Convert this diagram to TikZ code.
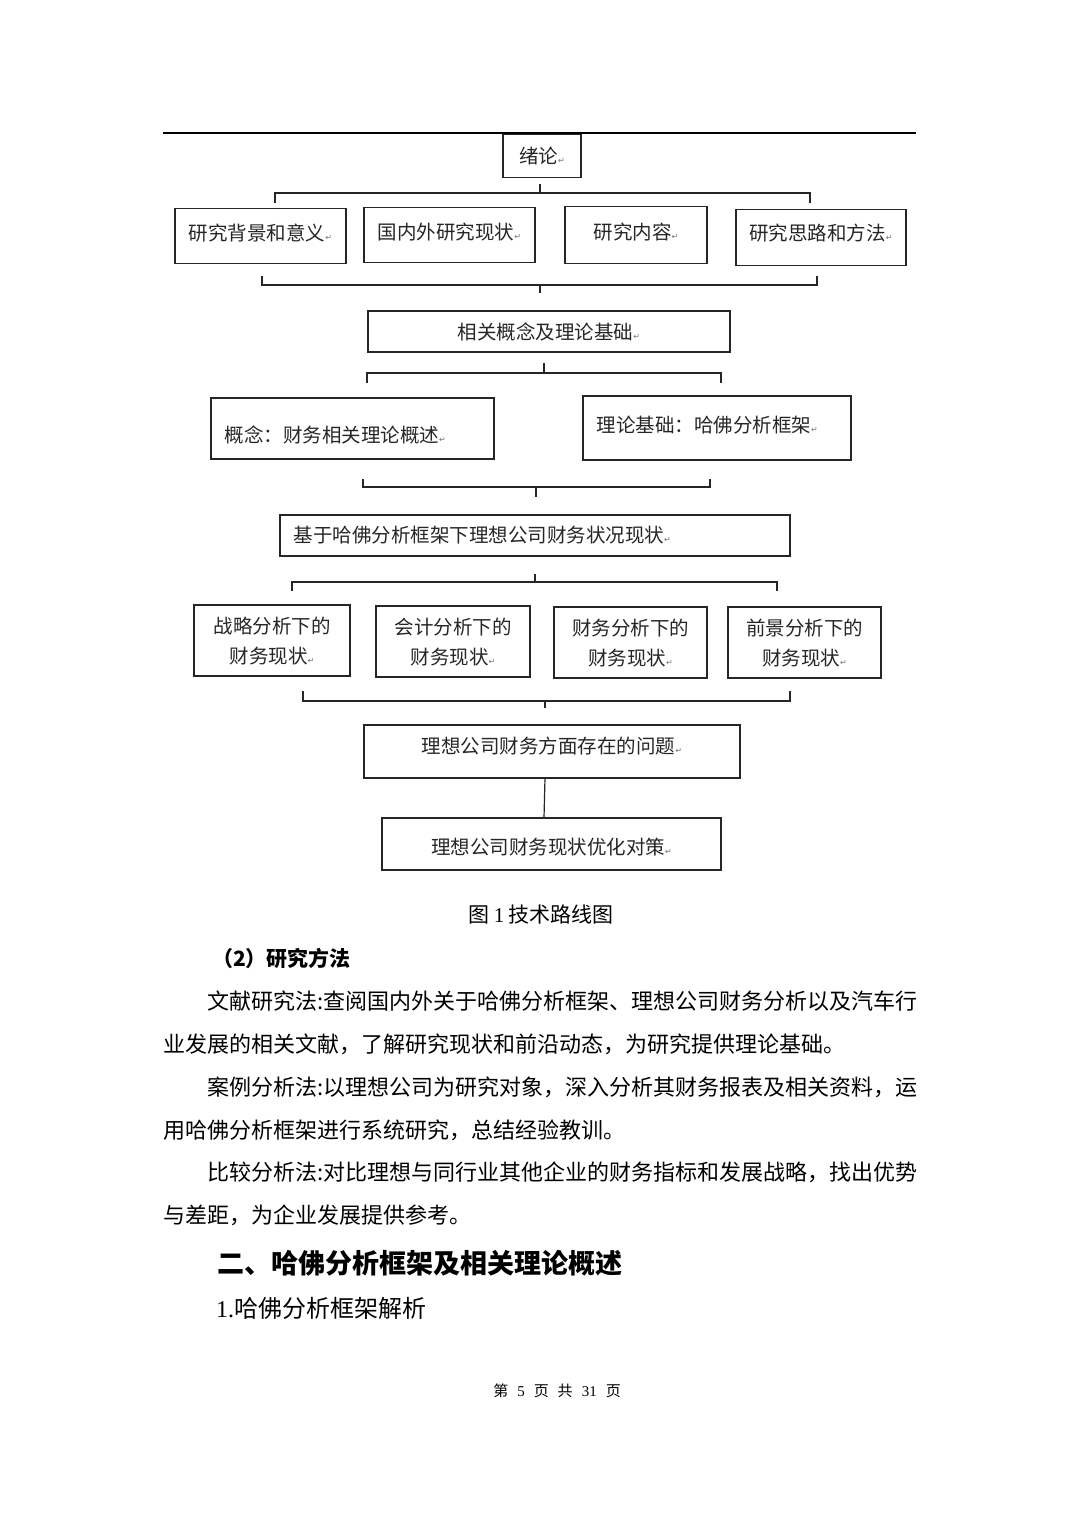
\documentclass[tikz,border=0pt]{standalone}
\usepackage{fontspec}
\setmainfont{Noto Sans CJK SC}
\newfontfamily\dejavu{DejaVu Sans}
\newfontfamily\serifnum{Liberation Serif}
\newcommand\retmark{{\dejavu\fontsize{8}{8}\selectfont\color{black!55}↵}}
\begin{document}
\begin{tikzpicture}[x=1pt,y=-1pt,
  box/.style={draw=black!85, line width=1.3pt, rectangle, inner sep=0pt},
  txt/.style={inner sep=0pt, font=\fontsize{19.5}{30}\selectfont, text=black!85, align=center},
  ltxt/.style={txt, anchor=west, xshift=14pt},
  link/.style={draw=black!85, line width=1.2pt},
  body/.style={anchor=west, inner sep=0pt, font=\fontsize{22}{22}\selectfont, text=black}]
\fill[white] (0,0) rectangle (1080,1527);
\useasboundingbox (0,0) rectangle (1080,1527);
% top rule
\draw[line width=1.2pt] (163,133) -- (916,133);
% boxes
\node[box, minimum width=78, minimum height=43, label={[txt]center:绪论\retmark}] (xl) at (542,156) {};
\node[box, minimum width=171, minimum height=55, label={[txt,yshift=3pt]center:研究背景和意义\retmark}] (b1) at (260.5,236) {};
\node[box, minimum width=171, minimum height=55, label={[txt,yshift=3pt]center:国内外研究现状\retmark}] (b2) at (449.5,235) {};
\node[box, minimum width=142, minimum height=57, label={[txt,yshift=3pt]center:研究内容\retmark}] (b3) at (636,235) {};
\node[box, minimum width=170, minimum height=56, label={[txt,yshift=4.5pt]center:研究思路和方法\retmark}] (b4) at (821,237.5) {};
\node[box, minimum width=362, minimum height=41, label={[txt]center:相关概念及理论基础\retmark}] (xg) at (549,331.5) {};
\node[box, minimum width=283, minimum height=61, label={[ltxt,yshift=-6pt]west:概念：财务相关理论概述\retmark}] (gn) at (352.5,428.5) {};
\node[box, minimum width=268, minimum height=64, label={[ltxt,yshift=3pt]west:理论基础：哈佛分析框架\retmark}] (ll) at (717,428) {};
\node[box, minimum width=510, minimum height=41, label={[ltxt]west:基于哈佛分析框架下理想公司财务状况现状\retmark}] (jy) at (535,535.5) {};
\node[box, minimum width=156, minimum height=71, label={[txt,yshift=-1pt]center:战略分析下的\\财务现状\retmark}] (c1) at (272,640.5) {};
\node[box, minimum width=154, minimum height=71, label={[txt,yshift=-1pt]center:会计分析下的\\财务现状\retmark}] (c2) at (453,641.5) {};
\node[box, minimum width=153, minimum height=71, label={[txt,yshift=-1pt]center:财务分析下的\\财务现状\retmark}] (c3) at (630.5,642.5) {};
\node[box, minimum width=153, minimum height=71, label={[txt,yshift=-1pt]center:前景分析下的\\财务现状\retmark}] (c4) at (804.5,642.5) {};
\node[box, minimum width=376, minimum height=53, label={[txt,yshift=5pt]center:理想公司财务方面存在的问题\retmark}] (wt) at (552,751.5) {};
\node[box, minimum width=339, minimum height=52, label={[txt,yshift=-3pt]center:理想公司财务现状优化对策\retmark}] (dc) at (551.5,844) {};
% bracket coordinates
\coordinate (k1a) at (540,184); \coordinate (k1m) at (540,193);
\coordinate (k1l) at (275,203); \coordinate (k1r) at (810,203);
\coordinate (k2l) at (262,276); \coordinate (k2r) at (817,276);
\coordinate (k2m) at (540,285); \coordinate (k2b) at (540,293);
\coordinate (k3a) at (544,363); \coordinate (k3m) at (544,373);
\coordinate (k3l) at (367,383); \coordinate (k3r) at (721,383);
\coordinate (k4l) at (363,479); \coordinate (k4r) at (710,479);
\coordinate (k4m) at (536,487); \coordinate (k4b) at (536,497);
\coordinate (k5a) at (535,574); \coordinate (k5m) at (535,582);
\coordinate (k5l) at (292,591); \coordinate (k5r) at (777,591);
\coordinate (k6l) at (303,691); \coordinate (k6r) at (790,691);
\coordinate (k6m) at (545,701); \coordinate (k6b) at (545,708);
% brackets
\draw[link] (k1a) -- (k1m);
\draw[link] (k1l) -- (k1l |- k1m) -- (k1r |- k1m) -- (k1r);
\draw[link] (k2l) -- (k2l |- k2m) -- (k2r |- k2m) -- (k2r);
\draw[link] (k2m) -- (k2b);
\draw[link] (k3a) -- (k3m);
\draw[link] (k3l) -- (k3l |- k3m) -- (k3r |- k3m) -- (k3r);
\draw[link] (k4l) -- (k4l |- k4m) -- (k4r |- k4m) -- (k4r);
\draw[link] (k4m) -- (k4b);
\draw[link] (k5a) -- (k5m);
\draw[link] (k5l) -- (k5l |- k5m) -- (k5r |- k5m) -- (k5r);
\draw[link] (k6l) -- (k6l |- k6m) -- (k6r |- k6m) -- (k6r);
\draw[link] (k6m) -- (k6b);
\coordinate (wtb) at (545,778);
\coordinate (dct) at (544,818);
\draw[link] (wtb) -- (dct);
% caption and body text
\node[inner sep=0pt, font=\fontsize{21}{21}\selectfont] (cap) at (541,914) {图 {\serifnum 1} 技术路线图};
\node[body, font=\bfseries\fontsize{21}{21}\selectfont] (h2) at (212,958) {（2）研究方法};
\node[body] (l1) at (207,1001) {文献研究法:查阅国内外关于哈佛分析框架、理想公司财务分析以及汽车行};
\node[body] (l2) at (163,1044) {业发展的相关文献，了解研究现状和前沿动态，为研究提供理论基础。};
\node[body] (l3) at (207,1087) {案例分析法:以理想公司为研究对象，深入分析其财务报表及相关资料，运};
\node[body] (l4) at (163,1130) {用哈佛分析框架进行系统研究，总结经验教训。};
\node[body] (l5) at (207,1172) {比较分析法:对比理想与同行业其他企业的财务指标和发展战略，找出优势};
\node[body] (l6) at (163,1215) {与差距，为企业发展提供参考。};
\node[body, font=\bfseries\fontsize{27}{27}\selectfont] (s2) at (217,1263) {二、哈佛分析框架及相关理论概述};
\node[body, font=\fontsize{24}{24}\selectfont] (s21) at (216,1308) {{\serifnum 1.}哈佛分析框架解析};
\node[inner sep=0pt, font=\fontsize{15}{15}\selectfont] (ft) at (557,1391) {第\hspace{9pt}{\serifnum 5}\hspace{9pt}页\hspace{9pt}共\hspace{9pt}{\serifnum 31}\hspace{9pt}页};
\end{tikzpicture}
\end{document}
